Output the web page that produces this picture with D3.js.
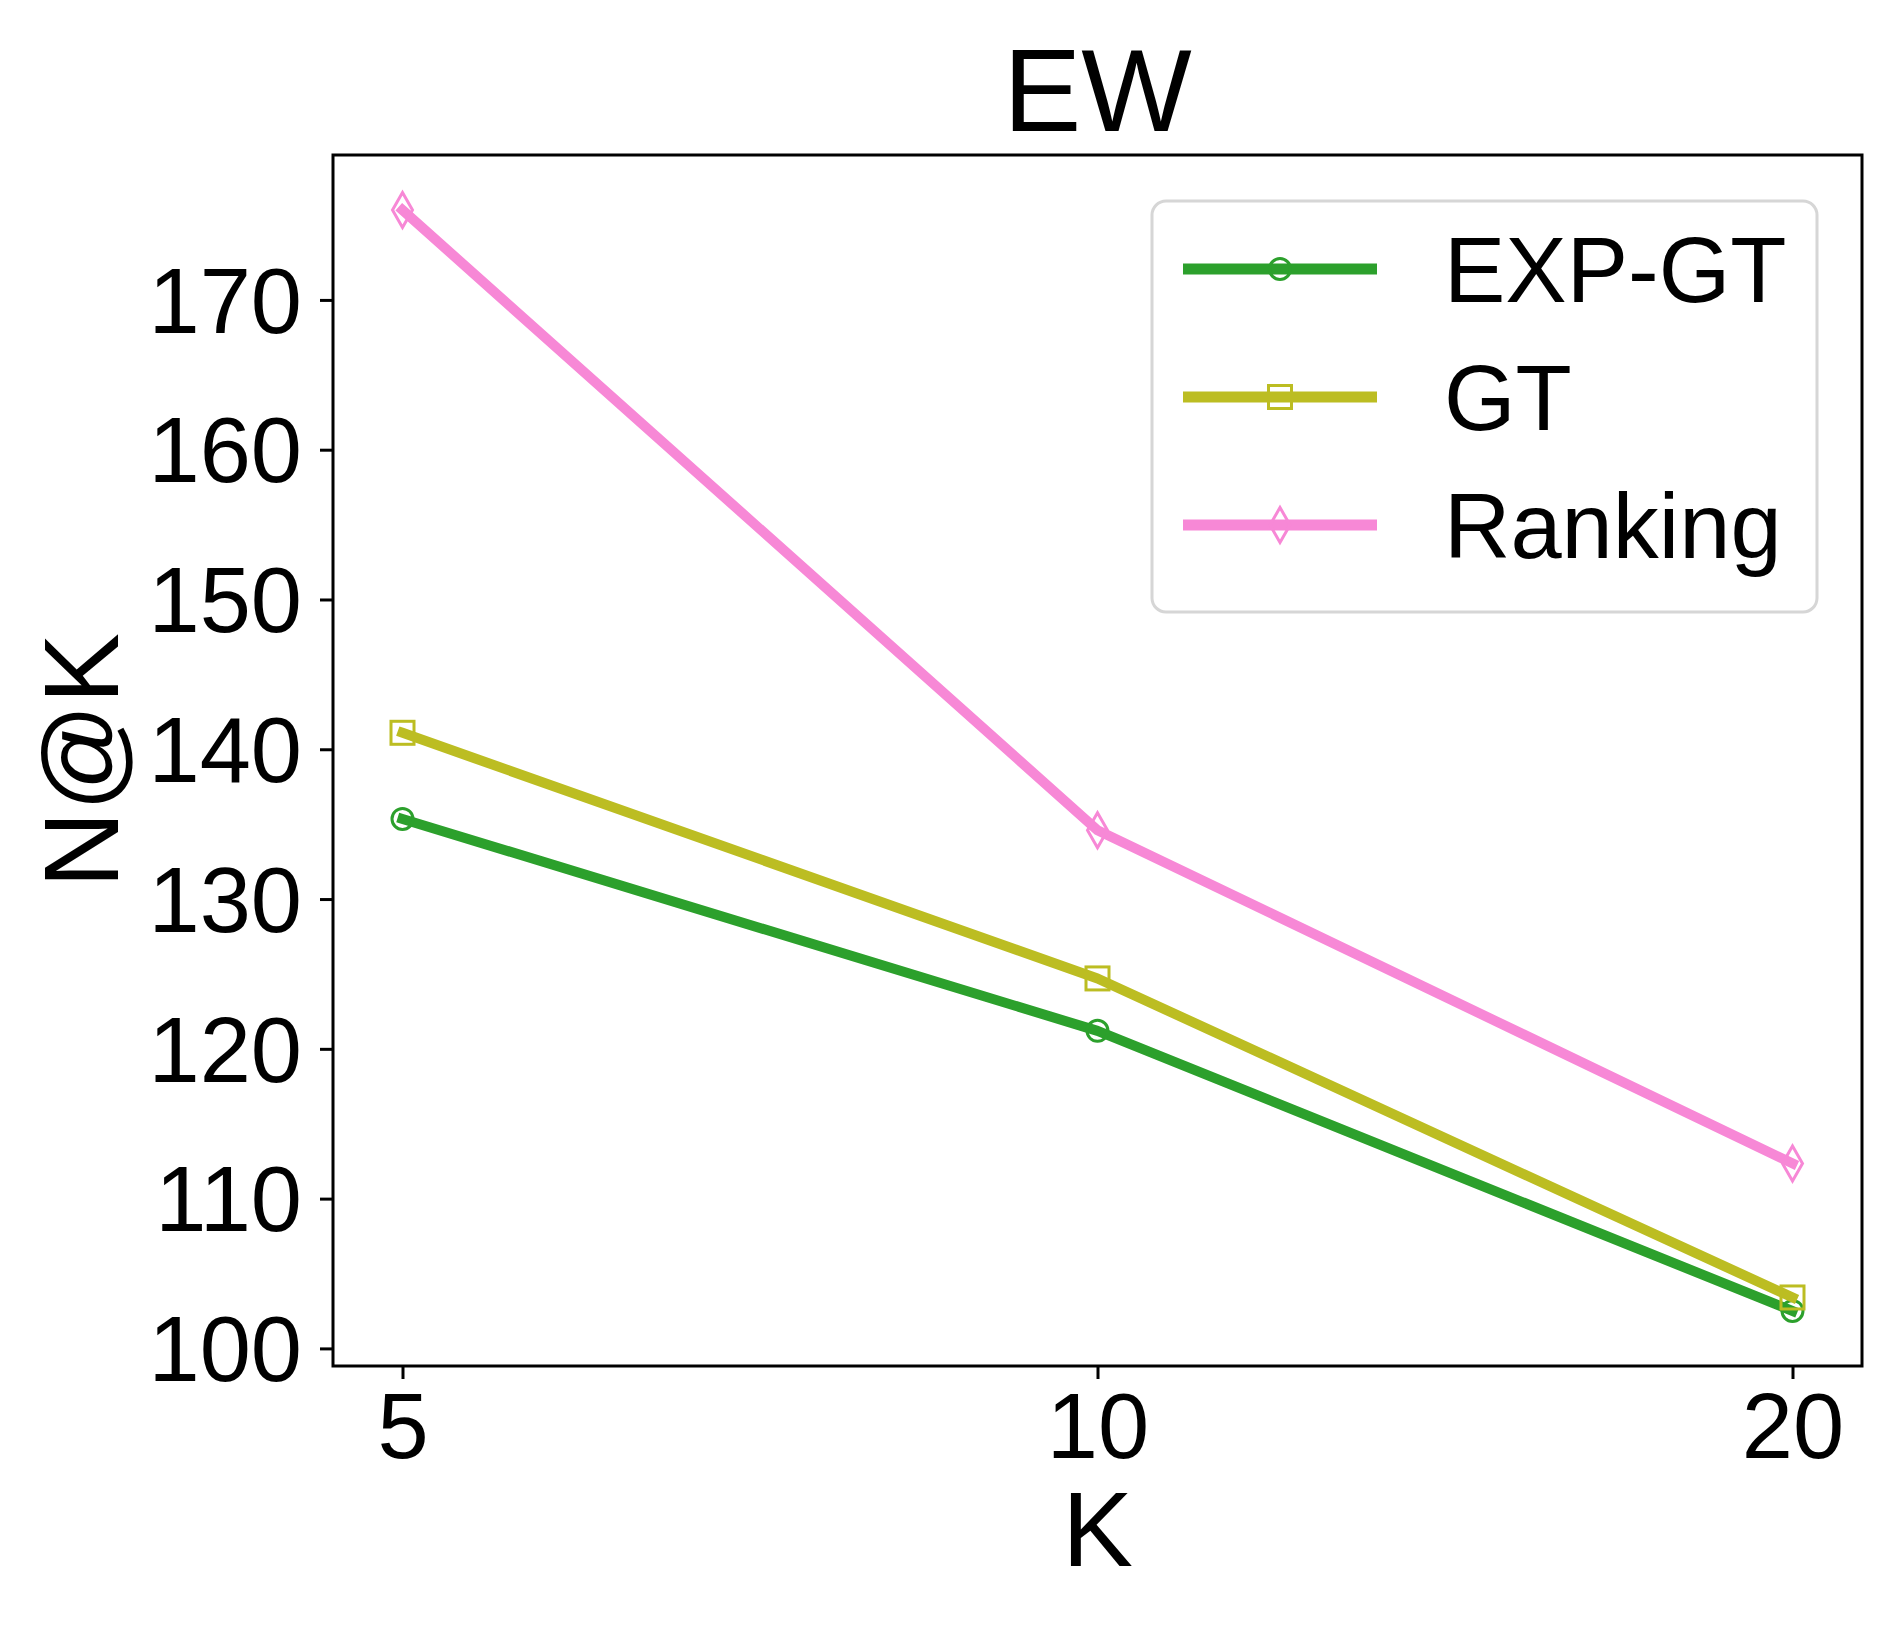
<!DOCTYPE html>
<html>
<head>
<meta charset="utf-8">
<script src="https://cdn.jsdelivr.net/npm/d3@7"></script>
<style>
  html, body { margin: 0; padding: 0; background: #fff; }
  svg { display: block; font-family: "Liberation Sans", Arial, sans-serif; }
</style>
</head>
<body>
<svg id="chart" width="1903" height="1631"></svg>
<script>
const categories = ["5", "10", "20"];
const seriesNames = ["EXP-GT", "GT", "Ranking"];
const expGT = [135.35, 121.2, 102.5];
const gt = [141.1, 124.7, 103.4];
const ranking = [176.0, 134.6, 112.35];
const yTicks = [100, 110, 120, 130, 140, 150, 160, 170];
const colors = ["#2ca02c", "#bcbd22", "#f788d6"];
const markers = ["circle", "square", "thindiamond"];

(function () {
const series = [expGT, gt, ranking].map((v, i) => ({ name: seriesNames[i], values: v, color: colors[i], marker: markers[i] }));

const svg = d3.select("#chart");
const pLeft = 333, pRight = 1862, pTop = 155, pBottom = 1366;

const x = d3.scalePoint().domain(categories).range([pLeft, pRight]).padding(0.1);
const all = series.flatMap(s => s.values);
const mn = d3.min(all), mx = d3.max(all), m = (mx - mn) * 0.05;
const y = d3.scaleLinear().domain([mn - m, mx + m]).range([pBottom, pTop]);

// axes
const yAxis = d3.axisLeft(y).tickValues(yTicks).tickSize(13).tickPadding(18).tickFormat(d3.format("d"));
const gy = svg.append("g").attr("transform", `translate(${pLeft},0)`).call(yAxis);
gy.select(".domain").remove();
gy.selectAll(".tick line").attr("stroke", "#000").attr("stroke-width", 3);
gy.selectAll(".tick text").attr("font-size", 92).attr("fill", "#000").attr("font-family", "Liberation Sans, Arial, sans-serif").attr("dy", "0.35em");

const xAxis = d3.axisBottom(x).tickSize(13).tickPadding(14);
const gx = svg.append("g").attr("transform", `translate(0,${pBottom})`).call(xAxis);
gx.select(".domain").remove();
gx.selectAll(".tick line").attr("stroke", "#000").attr("stroke-width", 3);
gx.selectAll(".tick text").attr("font-size", 92).attr("fill", "#000").attr("font-family", "Liberation Sans, Arial, sans-serif").attr("dy", "0.71em");

// lines
const line = d3.line().x((d, i) => x(categories[i])).y(d => y(d));

function drawMarker(g, type, cx, cy, color, scale) {
  const s = scale || 1;
  if (type === "circle") {
    g.append("circle").attr("cx", cx).attr("cy", cy).attr("r", 10.5 * s)
      .attr("fill", "none").attr("stroke", color).attr("stroke-width", 3);
  } else if (type === "square") {
    const h = 11.5 * s;
    g.append("rect").attr("x", cx - h).attr("y", cy - h).attr("width", 2 * h).attr("height", 2 * h)
      .attr("fill", "none").attr("stroke", color).attr("stroke-width", 3);
  } else {
    const hw = 10 * s, hh = 17.5 * s;
    g.append("path").attr("d", `M${cx},${cy - hh}L${cx + hw},${cy}L${cx},${cy + hh}L${cx - hw},${cy}Z`)
      .attr("fill", "none").attr("stroke", color).attr("stroke-width", 3).attr("stroke-linejoin", "miter");
  }
}

series.forEach(s => {
  const g = svg.append("g");
  g.append("path").attr("d", line(s.values)).attr("fill", "none").attr("stroke", s.color)
    .attr("stroke-width", 10).attr("stroke-linejoin", "round").attr("stroke-linecap", "square");
  s.values.forEach((v, i) => drawMarker(g, s.marker, x(categories[i]), y(v), s.color));
});

// frame
svg.append("rect").attr("x", pLeft).attr("y", pTop).attr("width", pRight - pLeft).attr("height", pBottom - pTop)
  .attr("fill", "none").attr("stroke", "#000").attr("stroke-width", 3);

// title and labels
svg.append("text").attr("x", (pLeft + pRight) / 2).attr("y", 131).attr("text-anchor", "middle")
  .attr("font-size", 117).attr("fill", "#000").text("EW");
svg.append("text").attr("x", (pLeft + pRight) / 2).attr("y", 1566).attr("text-anchor", "middle")
  .attr("font-size", 106).attr("fill", "#000").text("K");
svg.append("text").attr("transform", `translate(118,${(pTop + pBottom) / 2}) rotate(-90)`).attr("text-anchor", "middle")
  .attr("font-size", 106).attr("fill", "#000").text("N@K");

// legend
const lg = svg.append("g");
lg.append("rect").attr("x", 1152).attr("y", 201).attr("width", 665).attr("height", 411).attr("rx", 14)
  .attr("fill", "#fff").attr("fill-opacity", 0.8).attr("stroke", "#d6d6d6").attr("stroke-width", 3);
const legendY = d3.scaleLinear().domain([0, 2]).range([269, 525]);
series.forEach((s, i) => {
  const yy = legendY(i);
  lg.append("line").attr("x1", 1183).attr("x2", 1377).attr("y1", yy).attr("y2", yy)
    .attr("stroke", s.color).attr("stroke-width", 11);
  drawMarker(lg, s.marker, 1280, yy, s.color);
  lg.append("text").attr("x", 1444).attr("y", yy).attr("dy", "0.355em").attr("font-size", 92)
    .attr("fill", "#000").text(s.name);
});
})();
</script>
</body>
</html>
